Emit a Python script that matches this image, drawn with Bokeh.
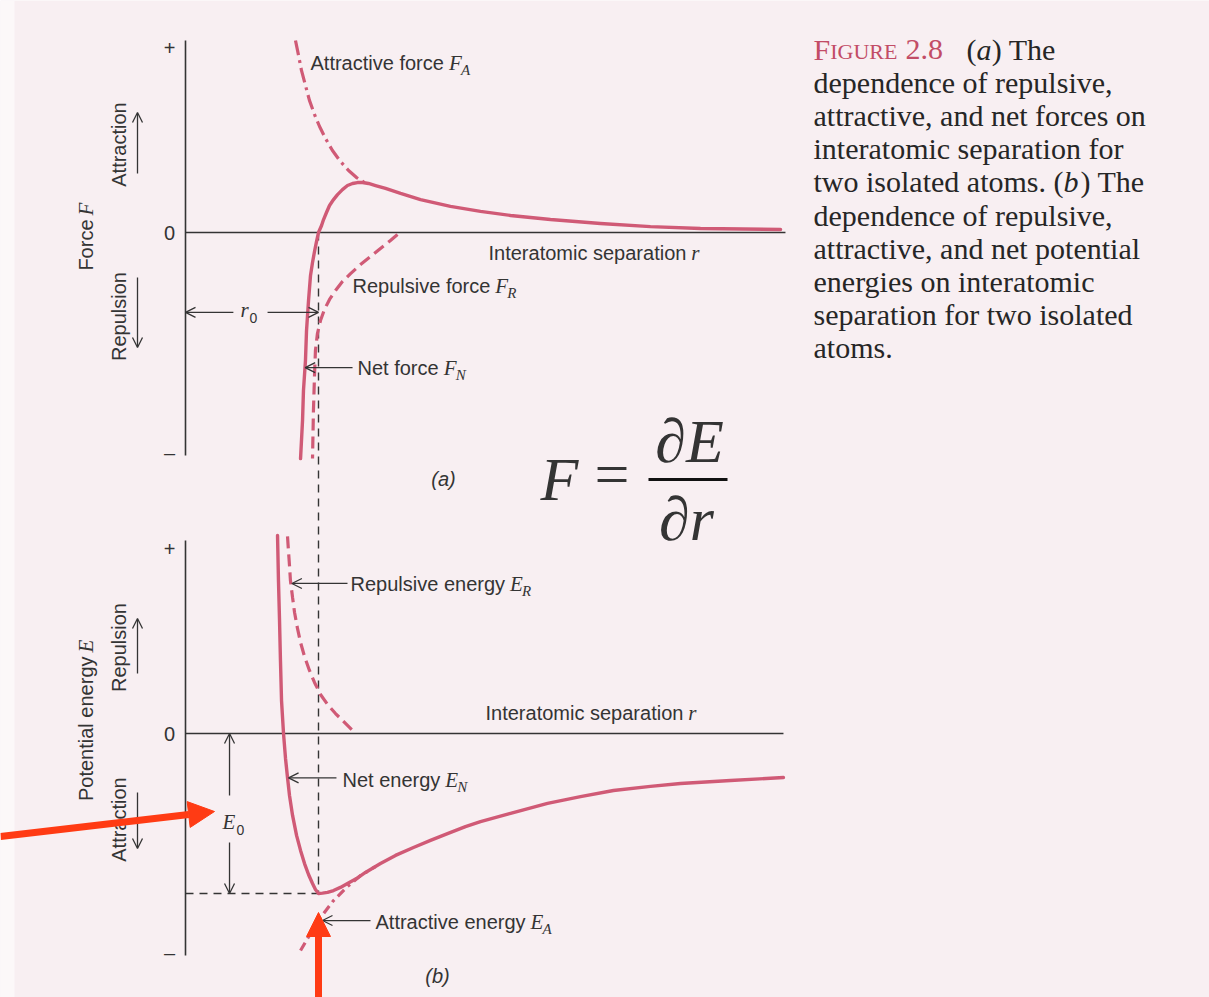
from math import pi

from bokeh.embed import file_html
from bokeh.models import Arrow, Label, NormalHead, OpenHead, Range1d
from bokeh.plotting import figure
from bokeh.resources import INLINE

PAGE_W, PAGE_H = 1209, 997

# ---- page layout of the two panels (pixels) ----
AXIS_X = 185        # r = 0
PX_PER_R = 133      # pixels per unit of r / r0
F_ZERO_Y = 232      # F = 0 line of panel (a)
E_ZERO_Y = 733      # E = 0 line of panel (b)
PX_PER_UNIT = 185   # pixels per unit of force or energy

PAPER = "#f8eff2"
INK = "#343434"
CURVE = "#d05a76"
ACCENT = "#c24c66"
MARKER = "#ff3b14"
SANS = "Liberation Sans"
SERIF = "Liberation Serif"

# ---- data (reduced units: separation in r0, force / energy arbitrary) ----
R0 = 1.0
E0 = -0.865

# (a) forces
r_net_force = [0.865, 0.880, 0.887, 0.902, 0.910, 0.925, 0.940, 0.955, 0.970, 0.985,
               1.000, 1.023, 1.038, 1.060, 1.083, 1.113, 1.143, 1.180, 1.218, 1.256,
               1.293, 1.331, 1.376, 1.429, 1.504, 1.617, 1.767, 1.992, 2.218, 2.444,
               2.744, 3.120, 3.496, 3.872, 4.474]
net_force = [-1.222, -1.016, -0.854, -0.692, -0.530, -0.368, -0.232, -0.162, -0.103, -0.049,
             0.000, 0.038, 0.070, 0.108, 0.146, 0.178, 0.205, 0.232, 0.254, 0.265,
             0.270, 0.270, 0.265, 0.254, 0.238, 0.211, 0.178, 0.141, 0.114, 0.092,
             0.070, 0.049, 0.032, 0.022, 0.016]
r_attr_force = [0.827, 0.850, 0.872, 0.902, 0.932, 0.970, 1.008, 1.053, 1.105, 1.165,
                1.226, 1.286, 1.346]
attr_force = [1.038, 0.957, 0.876, 0.795, 0.714, 0.638, 0.573, 0.508, 0.443, 0.384,
              0.335, 0.297, 0.270]
r_rep_force = [1.594, 1.541, 1.466, 1.391, 1.316, 1.241, 1.180, 1.128, 1.083, 1.045,
               1.015, 0.992, 0.977, 0.970, 0.962, 0.955]
rep_force = [-0.011, -0.043, -0.086, -0.130, -0.173, -0.222, -0.265, -0.314, -0.362, -0.416,
             -0.476, -0.546, -0.638, -0.773, -0.962, -1.222]

# (b) potential energies
r_net_energy = [0.692, 0.699, 0.707, 0.714, 0.722, 0.737, 0.752, 0.767, 0.782, 0.805,
                0.835, 0.865, 0.895, 0.925, 0.955, 0.977, 1.000, 1.030, 1.068, 1.113,
                1.165, 1.218, 1.286, 1.353, 1.466, 1.579, 1.714, 1.842, 1.970, 2.105,
                2.218, 2.444, 2.722, 2.970, 3.218, 3.496, 3.722, 4.098, 4.496]
net_energy = [1.070, 0.827, 0.611, 0.395, 0.178, 0.000, -0.135, -0.238, -0.335, -0.443,
              -0.551, -0.632, -0.703, -0.762, -0.811, -0.843, -0.865, -0.863, -0.859, -0.849,
              -0.832, -0.811, -0.784, -0.751, -0.703, -0.659, -0.616, -0.578, -0.541, -0.503,
              -0.476, -0.432, -0.378, -0.341, -0.308, -0.286, -0.270, -0.254, -0.238]
r_attr_energy = [0.865, 0.940, 1.015, 1.113, 1.218, 1.316, 1.429]
attr_energy = [-1.173, -1.081, -0.995, -0.903, -0.827, -0.768, -0.719]
r_rep_energy = [0.767, 0.774, 0.782, 0.789, 0.805, 0.820, 0.842, 0.865, 0.895, 0.932,
                0.970, 1.015, 1.068, 1.128, 1.188, 1.256]
rep_energy = [1.065, 0.989, 0.908, 0.827, 0.735, 0.654, 0.568, 0.492, 0.416, 0.341,
              0.276, 0.211, 0.157, 0.108, 0.065, 0.016]

# axis extents of both panels
F_AXIS = (-1.205, 1.038)
E_AXIS = (-1.200, 1.043)
R_AXIS_END = (4.511, 4.496)
sign_ticks = ["+", "0", "\u2013"]
force_tick_values = [1.0, 0.0, -1.19]
energy_tick_values = [1.0, 0.0, -1.184]

caption_lines = [
    "dependence of repulsive,",
    "attractive, and net forces on",
    "interatomic separation for",
    None,
    "dependence of repulsive,",
    "attractive, and net potential",
    "energies on interatomic",
    "separation for two isolated",
    "atoms.",
]

# advance widths (per 1000 em) used to place italic symbols after words
SANS_W = {" ": 278, "A": 667, "E": 667, "F": 611, "I": 278, "N": 722, "P": 667, "R": 722,
          "a": 556, "c": 500, "e": 556, "f": 278, "g": 556, "i": 222, "l": 222, "m": 833,
          "n": 556, "o": 556, "p": 556, "r": 333, "s": 500, "t": 278, "u": 556, "v": 500,
          "y": 500}
SERIF_W = {" ": 250, "(": 333, ")": 333, ",": 250, ".": 250, "T": 611, "a": 444, "b": 500,
           "c": 444, "d": 500, "e": 444, "h": 500, "i": 278, "l": 278, "m": 778, "n": 500,
           "o": 500, "r": 333, "s": 389, "t": 278, "w": 722, "G": 722, "I": 333, "U": 722,
           "R": 667, "E": 611, "F": 556, "2": 500, "8": 500}


def text_width(s, size, table):
    return sum(table.get(ch, 500) for ch in s) * size / 1000.0


p = figure(width=PAGE_W, height=PAGE_H,
           x_range=Range1d(0, PAGE_W), y_range=Range1d(PAGE_H, 0),
           x_axis_location=None, y_axis_location=None,
           toolbar_location=None, output_backend="svg", min_border=0,
           background_fill_color=PAPER, border_fill_color=PAPER, outline_line_color=None)
p.grid.visible = False
p.extra_x_ranges = {"r": Range1d(-AXIS_X / PX_PER_R, (PAGE_W - AXIS_X) / PX_PER_R)}
p.extra_y_ranges = {
    "force": Range1d(-(PAGE_H - F_ZERO_Y) / PX_PER_UNIT, F_ZERO_Y / PX_PER_UNIT),
    "energy": Range1d(-(PAGE_H - E_ZERO_Y) / PX_PER_UNIT, E_ZERO_Y / PX_PER_UNIT),
}

# lighter paper edge along the left side
p.quad(left=[0], right=[14], top=[0], bottom=[PAGE_H], fill_color="#fcf8f9", line_color=None)


def label(x, y, text, size=20, font=SANS, style="normal", color=INK, align="left",
          baseline="middle", angle=0.0):
    p.add_layout(Label(x=x, y=y, text=text, text_font=font, text_font_size=f"{size}px",
                       text_font_style=style, text_color=color, text_align=align,
                       text_baseline=baseline, angle=angle))


def labelled(x, y, words, sym, sub=None):
    label(x, y, words)
    sx = x + text_width(words, 20, SANS_W) + 5
    label(sx, y, sym, size=21, font=SERIF, style="italic")
    if sub:
        label(sx + 12, y + 7, sub, size=15, font=SERIF, style="italic")


def arrow(x0, y0, x1, y1, xr="default", yr="default", color=INK, width=1.3, size=10,
          head="open"):
    if head == "open":
        end = OpenHead(size=size, line_color=color, line_width=width)
    else:
        end = NormalHead(size=size, fill_color=color, line_color=color, line_width=1)
    p.add_layout(Arrow(x_start=x0, y_start=y0, x_end=x1, y_end=y1,
                       x_range_name=xr, y_range_name=yr,
                       line_color=color, line_width=width, end=end))


# ---- axes of both panels ----
for yr, ext, r_end in (("force", F_AXIS, R_AXIS_END[0]), ("energy", E_AXIS, R_AXIS_END[1])):
    p.segment(x0=[0, 0], y0=[ext[0], 0], x1=[0, r_end], y1=[ext[1], 0],
              x_range_name="r", y_range_name=yr, line_color=INK, line_width=1.6)

# equilibrium spacing r0 and bonding energy E0
p.segment(x0=[R0], y0=[0], x1=[R0], y1=[-(498 - F_ZERO_Y) / PX_PER_UNIT],
          x_range_name="r", y_range_name="force", line_color=INK, line_width=1.4,
          line_dash="8 6")
p.segment(x0=[R0, 0], y0=[(E_ZERO_Y - 498) / PX_PER_UNIT, E0], x1=[R0, R0], y1=[E0, E0],
          x_range_name="r", y_range_name="energy", line_color=INK, line_width=1.4,
          line_dash="8 6")

# ---- curves ----
p.line(r_attr_force, attr_force, x_range_name="r", y_range_name="force",
       line_color=CURVE, line_width=3.2, line_dash="15 5 3 5")
p.line(r_rep_force, rep_force, x_range_name="r", y_range_name="force",
       line_color=CURVE, line_width=3.2, line_dash="12 6")
p.line(r_net_force, net_force, x_range_name="r", y_range_name="force",
       line_color=CURVE, line_width=3.4, line_join="round", line_cap="round")

p.line(r_attr_energy, attr_energy, x_range_name="r", y_range_name="energy",
       line_color=CURVE, line_width=3.2, line_dash="9 5 3 5")
p.line(r_rep_energy, rep_energy, x_range_name="r", y_range_name="energy",
       line_color=CURVE, line_width=3.2, line_dash="12 6")
p.line(r_net_energy, net_energy, x_range_name="r", y_range_name="energy",
       line_color=CURVE, line_width=3.4, line_join="round", line_cap="round")

# ---- sign ticks ----
for txt, fv in zip(sign_ticks, force_tick_values):
    label(169, F_ZERO_Y - fv * PX_PER_UNIT, txt, align="center")
for txt, ev in zip(sign_ticks, energy_tick_values):
    label(169, E_ZERO_Y - ev * PX_PER_UNIT, txt, align="center")

# ---- axis titles and direction hints ----
label(85, 219, "Force", angle=pi / 2, align="right")
label(85, 215, "F", size=21, font=SERIF, style="italic", angle=pi / 2)
label(118, 144, "Attraction", angle=pi / 2, align="center")
label(118, 316, "Repulsion", angle=pi / 2, align="center")
arrow(137, 173, 137, 112)
arrow(137, 277, 137, 347)

label(85, 656, "Potential energy", angle=pi / 2, align="right")
label(85, 652, "E", size=21, font=SERIF, style="italic", angle=pi / 2)
label(118, 647, "Repulsion", angle=pi / 2, align="center")
label(118, 819, "Attraction", angle=pi / 2, align="center")
arrow(137, 673, 137, 618)
arrow(137, 792, 137, 848)

# ---- panel (a) annotations ----
labelled(310, 62, "Attractive force", "F", "A")
labelled(488, 252, "Interatomic separation", "r")
labelled(352, 285, "Repulsive force", "F", "R")
labelled(357, 367, "Net force", "F", "N")
arrow(1.256, -0.730, 0.900, -0.730, xr="r", yr="force")
arrow(0.36, -0.432, 0.0, -0.432, xr="r", yr="force")
arrow(0.617, -0.432, R0, -0.432, xr="r", yr="force")
label(240, 309, "r", size=21, font=SERIF, style="italic")
label(249, 317, "0", size=14)
label(443, 478, "(a)", style="italic", align="center")

# ---- panel (b) annotations ----
labelled(350, 583, "Repulsive energy", "E", "R")
labelled(485, 712, "Interatomic separation", "r")
labelled(342, 779, "Net energy", "E", "N")
labelled(375, 921, "Attractive energy", "E", "A")
arrow(1.218, 0.811, 0.800, 0.811, xr="r", yr="energy")
arrow(1.135, -0.240, 0.775, -0.240, xr="r", yr="energy")
arrow(1.391, -1.011, 1.030, -1.011, xr="r", yr="energy")
arrow(0.331, -0.335, 0.331, 0.0, xr="r", yr="energy")
arrow(0.331, -0.589, 0.331, E0, xr="r", yr="energy")
label(222, 821, "E", size=21, font=SERIF, style="italic")
label(236, 829, "0", size=14)
label(437, 975, "(b)", style="italic", align="center")

# ---- F = dE/dr ----
label(540, 478, "F", size=62, font=SERIF, style="italic")
label(594, 473, "=", size=62, font=SERIF)
p.segment(x0=[648], y0=[479], x1=[727], y1=[479], line_color="#111111", line_width=3)
label(689, 440, "\u2202E", size=62, font=SERIF, style="italic", align="center")
label(686, 518, "\u2202r", size=62, font=SERIF, style="italic", align="center")

# ---- caption ----
CAP_X, CAP_Y, CAP_DY, CAP_SIZE = 813, 49, 33.1, 30
label(CAP_X, CAP_Y, "F", size=CAP_SIZE, font=SERIF, color=ACCENT)
label(CAP_X + text_width("F", CAP_SIZE, SERIF_W), CAP_Y + 2, "IGURE", size=22, font=SERIF,
      color=ACCENT)
label(905, CAP_Y, "2.8", size=CAP_SIZE, font=SERIF, color=ACCENT)


def caption_run(x, y, pieces):
    for txt, style in pieces:
        label(x, y, txt, size=CAP_SIZE, font=SERIF, style=style, color="#262626")
        x += text_width(txt, CAP_SIZE, SERIF_W) + (2 if style == "italic" else 0)


caption_run(966, CAP_Y, [("(", "normal"), ("a", "italic"), (") The", "normal")])
for i, line in enumerate(caption_lines, start=1):
    y = CAP_Y + i * CAP_DY
    if line is None:
        caption_run(CAP_X, y, [("two isolated atoms. (", "normal"), ("b", "italic"),
                               (") The", "normal")])
    else:
        label(CAP_X, y, line, size=CAP_SIZE, font=SERIF, color="#262626")

# ---- highlight arrows ----
arrow(0, 836, 214, 811, color=MARKER, width=7, size=26, head="filled")
arrow(318, 1000, 318, 912, color=MARKER, width=7, size=24, head="filled")

open("out.html", "w").write(file_html(p, INLINE))
